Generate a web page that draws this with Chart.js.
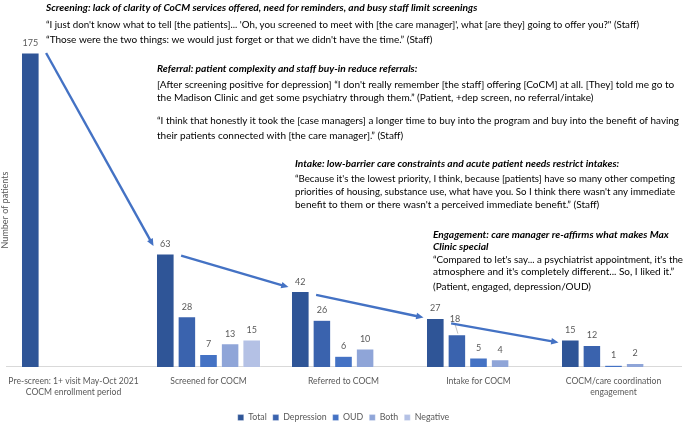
<!DOCTYPE html>
<html>
<head>
<meta charset="utf-8">
<script src="https://cdn.jsdelivr.net/npm/chart.js@4"></script>
<style>
  html, body { margin: 0; padding: 0; background: #fff; }
  #wrap { width: 685px; height: 422px; }
</style>
</head>
<body>
<div id="wrap"><canvas id="chart" width="685" height="422"></canvas></div>
<script>
const categories = [
  ["Pre-screen: 1+ visit May-Oct 2021", "COCM enrollment period"],
  "Screened for COCM",
  "Referred to COCM",
  "Intake for COCM",
  ["COCM/care coordination", "engagement"]
];
const seriesNames = ["Total", "Depression", "OUD", "Both", "Negative"];
const totalCounts = [175, 63, 42, 27, 15];
const depressionCounts = [null, 28, 26, 18, 12];
const oudCounts = [null, 7, 6, 5, 1];
const bothCounts = [null, 13, 10, 4, 2];
const negativeCounts = [null, 15, null, null, null];
const seriesColors = ["#2f5597", "#3a63ae", "#4472c4", "#8fa5d8", "#b4c1e5"];

const quoteBlocks = [
  { title: "Screening: lack of clarity of CoCM services offered, need for reminders, and busy staff limit screenings",
    lines: [
      "\u201cI just don't know what to tell [the patients]... 'Oh, you screened to meet with [the care manager]', what [are they] going to offer you?\" (Staff)",
      "\u201cThose were the two things: we would just forget or that we didn't have the time.\u201d (Staff)"
    ], x: 46, ys: [8, 25, 40], width: 593 },
  { title: "Referral: patient complexity and staff buy-in reduce referrals:",
    lines: [
      "[After screening positive for depression] \u201cI don't really remember [the staff] offering [CoCM] at all. [They] told me go to",
      "the Madison Clinic and get some psychiatry through them.\u201d (Patient, +dep screen, no referral/intake)",
      "\u201cI think that honestly it took the [case managers] a longer time to buy into the program and buy into the benefit of having",
      "their patients connected with [the care manager].\u201d (Staff)"
    ], x: 157, ys: [69, 85, 98, 121, 136], width: 522 },
  { title: "Intake: low-barrier care constraints and acute patient needs restrict intakes:",
    lines: [
      "\u201cBecause it's the lowest priority, I think, because [patients] have so many other competing",
      "priorities of housing, substance use, what have you. So I think there wasn't any immediate",
      "benefit to them or there wasn't a perceived immediate benefit.\u201d (Staff)"
    ], x: 295, ys: [164, 179, 192, 205], width: 380 },
  { title: "Engagement: care manager re-affirms what makes Max\nClinic special",
    lines: [
      "\u201cCompared to let's say... a psychiatrist appointment, it's the",
      "atmosphere and it's completely different... So, I liked it.\u201d",
      "(Patient, engaged, depression/OUD)"
    ], x: 433, ys: [235, 247, 260, 272, 287], width: 250 }
];

const textFont = "Lato, 'Open Sans', sans-serif";

const annotations = {
  id: "annotations",
  afterDatasetsDraw(chart) {
    const ctx = chart.ctx;
    const area = chart.chartArea;
    ctx.save();

    // value labels
    ctx.font = "9px " + textFont;
    ctx.fillStyle = "#595959";
    ctx.textAlign = "center";
    ctx.textBaseline = "middle";
    chart.data.datasets.forEach((ds, di) => {
      const meta = chart.getDatasetMeta(di);
      meta.data.forEach((bar, i) => {
        const v = ds.data[i];
        if (v === null) return;
        let lx = bar.x, ly = bar.y - 10;
        if (di === 1 && i === 3) {
          lx = bar.x - 2; ly = bar.y - 16;
          ctx.strokeStyle = "#a6a6a6"; ctx.lineWidth = 0.7;
          ctx.beginPath(); ctx.moveTo(bar.x - 2, ly + 5); ctx.lineTo(bar.x + 1, bar.y - 1); ctx.stroke();
        }
        ctx.fillText(String(v), lx, ly);
      });
    });

    // funnel arrows between Total bars
    const totals = chart.getDatasetMeta(0).data;
    ctx.strokeStyle = "#4472c4";
    ctx.fillStyle = "#4472c4";
    ctx.lineWidth = 2.4;
    for (let i = 0; i < totals.length - 1; i++) {
      const a = totals[i], b = totals[i + 1];
      const x1 = a.x + a.width / 2 + 7, y1 = a.y + i * 1.6;
      const x2 = b.x - b.width / 2 - 3, y2 = b.y - 8 + i * 3.5;
      const ang = Math.atan2(y2 - y1, x2 - x1);
      const head = 8;
      ctx.beginPath();
      ctx.moveTo(x1, y1);
      ctx.lineTo(x2 - Math.cos(ang) * head * 0.8, y2 - Math.sin(ang) * head * 0.8);
      ctx.stroke();
      ctx.beginPath();
      ctx.moveTo(x2, y2);
      ctx.lineTo(x2 - head * Math.cos(ang - 0.42), y2 - head * Math.sin(ang - 0.42));
      ctx.lineTo(x2 - head * Math.cos(ang + 0.42), y2 - head * Math.sin(ang + 0.42));
      ctx.closePath();
      ctx.fill();
    }

    // y axis title
    ctx.save();
    ctx.translate(5, (area.top + area.bottom) / 2);
    ctx.rotate(-Math.PI / 2);
    ctx.font = "9px " + textFont;
    ctx.fillStyle = "#595959";
    ctx.textAlign = "center";
    ctx.textBaseline = "middle";
    ctx.fillText("Number of patients", 0, 0);
    ctx.restore();

    // quote blocks
    ctx.textAlign = "left";
    ctx.textBaseline = "middle";
    ctx.fillStyle = "#000";
    quoteBlocks.forEach((blk) => {
      const titleLines = blk.title.split("\n");
      let k = 0;
      ctx.font = "italic bold 10.2px " + textFont;
      titleLines.forEach((t) => { ctx.fillText(t, blk.x, blk.ys[k++], blk.width); });
      ctx.font = "10px " + textFont;
      blk.lines.forEach((t) => { ctx.fillText(t, blk.x, blk.ys[k++], blk.width); });
    });
    ctx.restore();
  }
};

const datasetValues = [totalCounts, depressionCounts, oudCounts, bothCounts, negativeCounts];

new Chart(document.getElementById("chart"), {
  type: "bar",
  data: {
    labels: categories,
    datasets: seriesNames.map((name, i) => ({
      label: name,
      data: datasetValues[i],
      backgroundColor: seriesColors[i],
      borderColor: "rgba(255,255,255,0.6)",
      borderWidth: 0.5,
      categoryPercentage: 0.8,
      barPercentage: 0.815
    }))
  },
  options: {
    responsive: false,
    animation: false,
    devicePixelRatio: 1,
    layout: { padding: { left: 6, right: 4, top: 53, bottom: -10 } },
    plugins: {
      tooltip: { enabled: false },
      legend: {
        position: "bottom",
        labels: {
          boxWidth: 6, boxHeight: 6, padding: 6,
          color: "#595959",
          font: { size: 8.8, family: textFont }
        }
      }
    },
    scales: {
      x: {
        grid: { display: false },
        border: { display: true, color: "#d9d9d9", width: 1 },
        ticks: { color: "#595959", font: { size: 8.6, family: textFont, lineHeight: 1.35 }, padding: 0, maxRotation: 0, autoSkip: false },
        afterFit(scale) { scale.paddingLeft = 0; scale.paddingRight = 0; scale.height += 9; }
      },
      y: { display: false, min: 0, max: 175 }
    }
  },
  plugins: [annotations]
});
</script>
</body>
</html>
